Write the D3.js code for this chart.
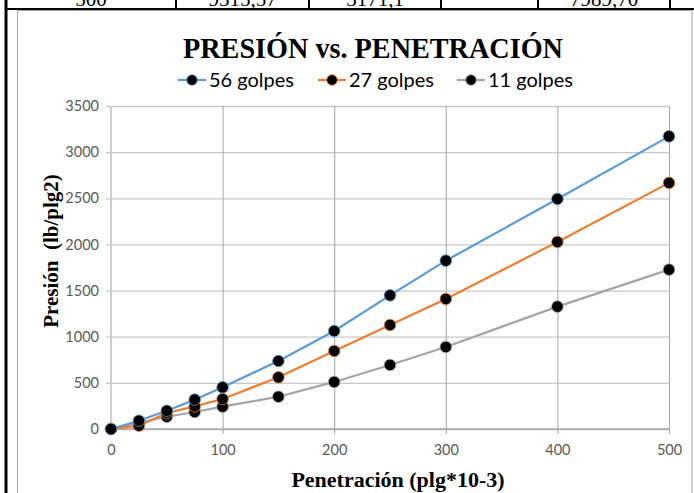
<!DOCTYPE html>
<html>
<head>
<meta charset="utf-8">
<script src="https://cdn.jsdelivr.net/npm/d3@7"></script>
<style>
  html, body { margin: 0; padding: 0; background: #fff; }
  svg { display: block; }
</style>
</head>
<body>
<svg id="chart" width="694" height="493"></svg>
<script>
// Penetration readings (thousandths of an inch)
const penetracion = [0, 25, 50, 75, 100, 150, 200, 250, 300, 400, 500];
// Pressure (lb/plg2) for each compaction energy
const golpes56 = [0, 90, 198, 318, 452, 737, 1062, 1448, 1824, 2493, 3171.1];
const golpes27 = [0, 36, 173, 245, 325, 560, 846, 1127, 1409, 2027, 2667];
const golpes11 = [0, 68, 133, 184, 242, 350, 510, 694, 889, 1326, 1727];
const seriesNames = ["56 golpes", "27 golpes", "11 golpes"];
const seriesColors = ["#5b9bd5", "#ed7d31", "#a5a5a5"];
const xTicks = [0, 100, 200, 300, 400, 500];
const yTicks = [0, 500, 1000, 1500, 2000, 2500, 3000, 3500];
// Last row of the data table above the chart
const tableRow = ["500", "9315,57", "3171,1", "", "7989,70"];

const svg = d3.select("#chart");
const serif = "'Liberation Serif', 'Times New Roman', serif";
const sans = "Lato, 'Open Sans', sans-serif";
const plain = d3.format("d");

// ---- table fragment at the top ----
const cellEdges = [6, 176, 309, 441, 538, 670, 694];
tableRow.forEach((t, i) => {
  svg.append("text")
    .attr("x", (cellEdges[i] + cellEdges[i + 1]) / 2)
    .attr("y", 6)
    .attr("text-anchor", "middle")
    .attr("font-family", serif)
    .attr("font-size", 21)
    .attr("fill", "#000")
    .text(t);
});
svg.append("line").attr("x1", 5).attr("x2", 694).attr("y1", 9).attr("y2", 9)
  .attr("stroke", "#000").attr("stroke-width", 2);
cellEdges.slice(1, 6).forEach(x => {
  svg.append("line").attr("x1", x).attr("x2", x).attr("y1", 0).attr("y2", 9)
    .attr("stroke", "#000").attr("stroke-width", 2);
});
svg.append("line").attr("x1", 6).attr("x2", 6).attr("y1", 0).attr("y2", 493)
  .attr("stroke", "#000").attr("stroke-width", 3);

// ---- chart frame ----
svg.append("rect").attr("x", 17.5).attr("y", 10.5).attr("width", 674.5).attr("height", 490)
  .attr("fill", "#fff").attr("stroke", "#a6a6a6").attr("stroke-width", 1);

// ---- scales ----
const x = d3.scaleLinear().domain([0, 500]).range([111, 669]);
const y = d3.scaleLinear().domain([0, 3500]).range([429, 106]);

const g = svg.append("g");

// horizontal gridlines + y ticks
g.append("g")
  .attr("transform", `translate(${x(0)},0)`)
  .call(d3.axisLeft(y).tickValues(yTicks).tickSize(-(x(500) - x(0))).tickFormat(""))
  .call(a => a.select(".domain").remove())
  .call(a => a.selectAll("line").attr("stroke", "#c8c8c8").attr("stroke-width", 1.3)
    .attr("x1", -5));

// vertical gridlines
g.append("g")
  .attr("transform", `translate(0,${y(3500)})`)
  .call(d3.axisBottom(x).tickValues(xTicks.slice(1)).tickSize(y(0) - y(3500) + 5).tickFormat(""))
  .call(a => a.select(".domain").remove())
  .call(a => a.selectAll("line").attr("stroke", "#a6a6a6").attr("stroke-width", 1));

// left axis line
g.append("line").attr("x1", x(0)).attr("x2", x(0)).attr("y1", y(3500)).attr("y2", y(0) + 5)
  .attr("stroke", "#cfcfcf").attr("stroke-width", 2);
// bottom axis line
g.append("line").attr("x1", x(0) - 5).attr("x2", x(500)).attr("y1", y(0)).attr("y2", y(0))
  .attr("stroke", "#a6a6a6").attr("stroke-width", 1.3);

// tick labels
g.append("g")
  .attr("transform", `translate(${x(0) - 12},0)`)
  .call(d3.axisLeft(y).tickValues(yTicks).tickFormat(plain).tickSize(0).tickPadding(0))
  .call(a => a.select(".domain").remove())
  .call(a => a.selectAll("text").attr("font-family", sans).attr("font-size", 14.5).attr("fill", "#595959"));

g.append("g")
  .attr("transform", `translate(0,${y(0) + 16})`)
  .call(d3.axisBottom(x).tickValues(xTicks).tickFormat(plain).tickSize(0).tickPadding(0))
  .call(a => a.select(".domain").remove())
  .call(a => a.selectAll("text").attr("font-family", sans).attr("font-size", 14.5).attr("fill", "#595959"));

// ---- series ----
const allSeries = [golpes56, golpes27, golpes11];
const line = d3.line().x((d, i) => x(penetracion[i])).y(d => y(d));

// draw lower-energy series first so the 56-blow line sits on top
[2, 1, 0].forEach(si => {
  g.append("path").datum(allSeries[si])
    .attr("fill", "none")
    .attr("stroke", seriesColors[si])
    .attr("stroke-width", 2.2)
    .attr("stroke-linejoin", "round")
    .attr("d", line);
});
[2, 1, 0].forEach(si => {
  g.append("g").selectAll("circle").data(allSeries[si]).join("circle")
    .attr("cx", (d, i) => x(penetracion[i]))
    .attr("cy", d => y(d))
    .attr("r", 5.8)
    .attr("fill", "#000")
    .attr("stroke", seriesColors[si])
    .attr("stroke-width", 0.8);
});

// ---- title ----
svg.append("text")
  .attr("x", 373).attr("y", 58)
  .attr("text-anchor", "middle")
  .attr("font-family", serif).attr("font-weight", "bold").attr("font-size", 30)
  .attr("textLength", 380).attr("lengthAdjust", "spacingAndGlyphs")
  .attr("fill", "#000")
  .text("PRESIÓN vs. PENETRACIÓN");

// ---- legend ----
const legendX = [178, 318, 457];
seriesNames.forEach((name, i) => {
  const lg = svg.append("g").attr("transform", `translate(${legendX[i]},80)`);
  lg.append("line").attr("x1", 0).attr("x2", 28).attr("y1", 0).attr("y2", 0)
    .attr("stroke", seriesColors[i]).attr("stroke-width", 2.2);
  lg.append("circle").attr("cx", 14).attr("cy", 0).attr("r", 5.3)
    .attr("fill", "#000").attr("stroke", seriesColors[i]).attr("stroke-width", 0.8);
  lg.append("text").attr("x", 31).attr("y", 6.5)
    .attr("font-family", sans).attr("font-size", 18.5).attr("fill", "#000")
    .attr("textLength", 85).attr("lengthAdjust", "spacingAndGlyphs")
    .text(name);
});

// ---- axis titles ----
svg.append("text")
  .attr("transform", "translate(58,251) rotate(-90)")
  .attr("text-anchor", "middle")
  .attr("font-family", serif).attr("font-weight", "bold").attr("font-size", 21)
  .attr("fill", "#000")
  .attr("xml:space", "preserve")
  .text("Presión  (lb/plg2)");

svg.append("text")
  .attr("x", 398).attr("y", 487)
  .attr("text-anchor", "middle")
  .attr("font-family", serif).attr("font-weight", "bold").attr("font-size", 22)
  .attr("fill", "#000")
  .text("Penetración (plg*10-3)");
</script>
</body>
</html>
